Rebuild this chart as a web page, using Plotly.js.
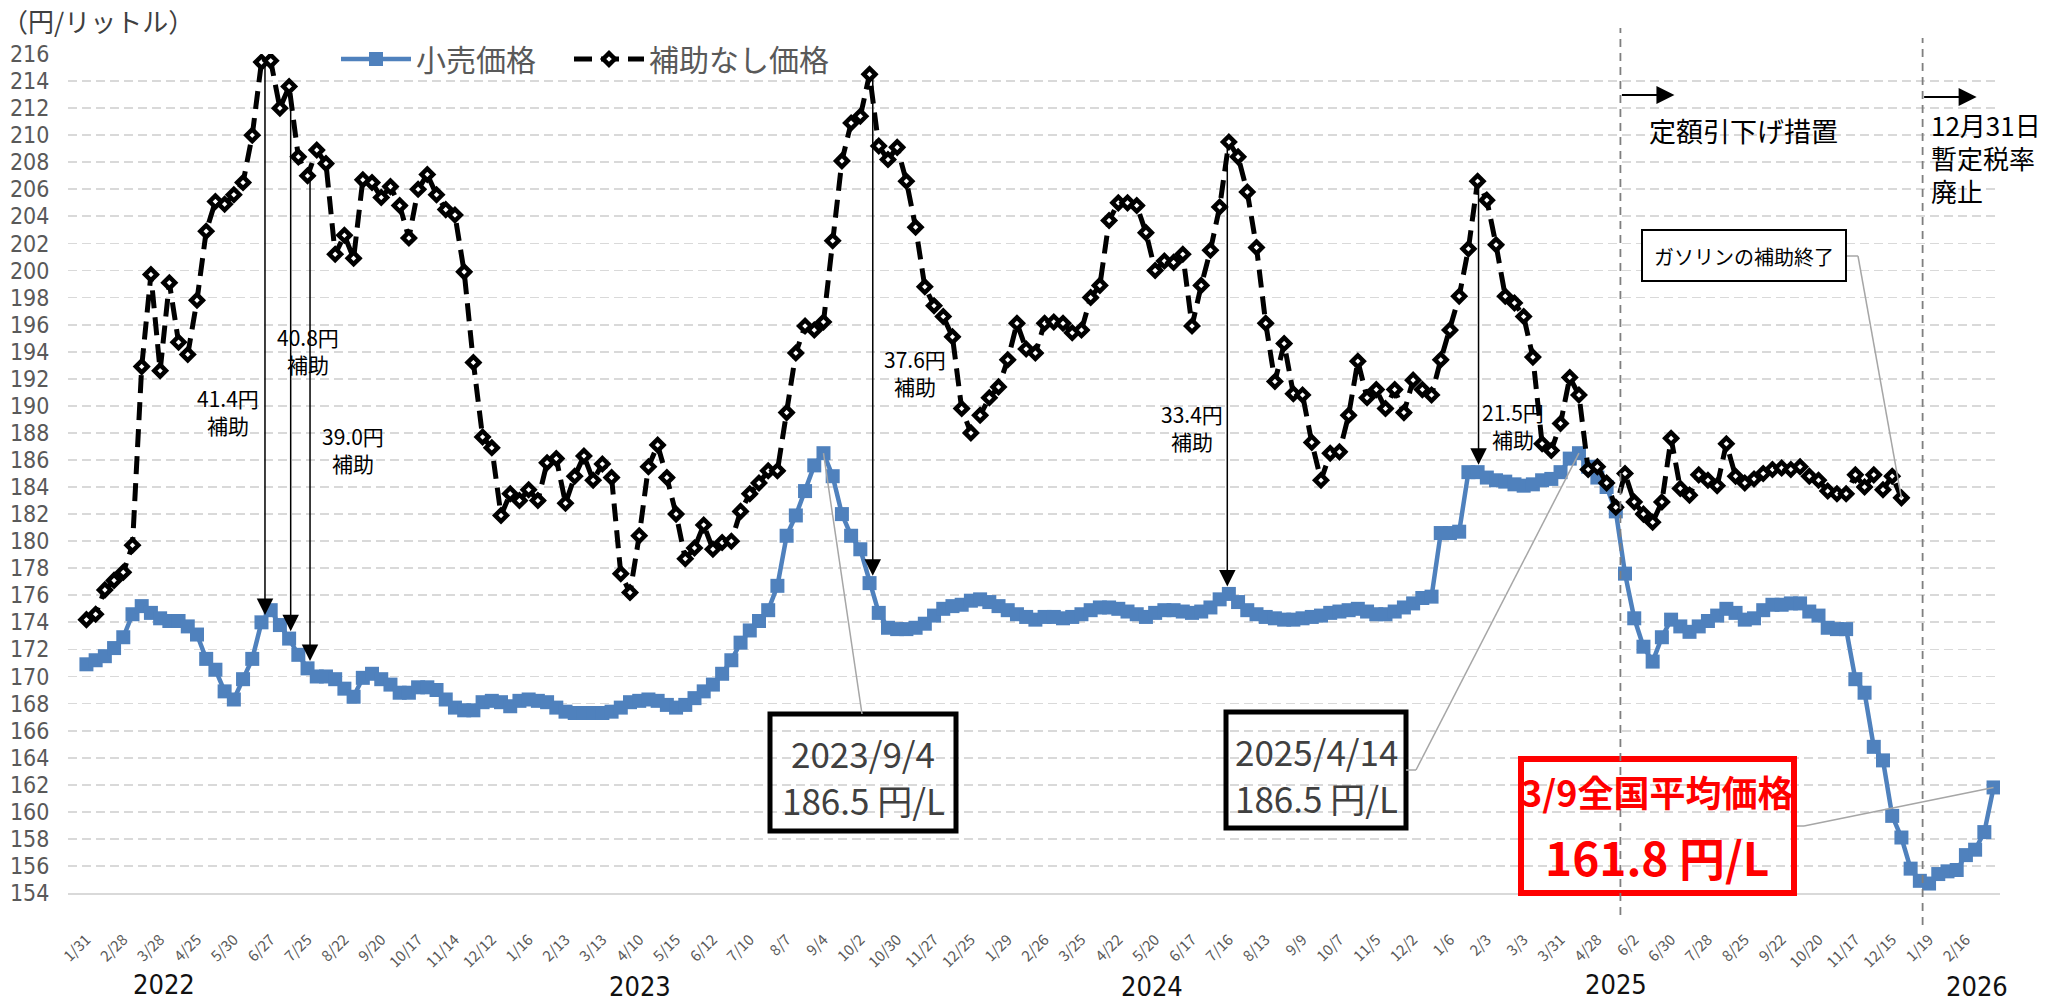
<!DOCTYPE html>
<html><head><meta charset="utf-8">
<script src="https://cdn.plot.ly/plotly-3.0.1.min.js"></script>
<style>html,body{margin:0;padding:0;background:#fff;} #chart{width:2053px;height:1003px;}</style>
</head><body><div id="chart"></div>
<script>
// ---------------- DATA ----------------
const weeks = [
"2022/1/31","2022/2/7","2022/2/14","2022/2/21","2022/2/28","2022/3/7","2022/3/14","2022/3/22","2022/3/28","2022/4/4",
"2022/4/11","2022/4/18","2022/4/25","2022/5/9","2022/5/16","2022/5/23","2022/5/30","2022/6/6","2022/6/13","2022/6/20",
"2022/6/27","2022/7/4","2022/7/11","2022/7/19","2022/7/25","2022/8/1","2022/8/8","2022/8/15","2022/8/22","2022/8/29",
"2022/9/5","2022/9/12","2022/9/20","2022/9/26","2022/10/3","2022/10/11","2022/10/17","2022/10/24","2022/10/31","2022/11/7",
"2022/11/14","2022/11/21","2022/11/28","2022/12/5","2022/12/12","2022/12/19","2022/12/26",
"2023/1/10","2023/1/16","2023/1/23","2023/1/30","2023/2/6","2023/2/13","2023/2/20","2023/2/27","2023/3/6","2023/3/13",
"2023/3/20","2023/3/27","2023/4/3","2023/4/10","2023/4/17","2023/4/24","2023/5/8","2023/5/15","2023/5/22","2023/5/29",
"2023/6/5","2023/6/12","2023/6/19","2023/6/26","2023/7/3","2023/7/10","2023/7/18","2023/7/24","2023/7/31","2023/8/7",
"2023/8/14","2023/8/21","2023/8/28","2023/9/4","2023/9/11","2023/9/19","2023/9/25","2023/10/2","2023/10/10","2023/10/16",
"2023/10/23","2023/10/30","2023/11/6","2023/11/13","2023/11/20","2023/11/27","2023/12/4","2023/12/11","2023/12/18","2023/12/25",
"2024/1/9","2024/1/15","2024/1/22","2024/1/29","2024/2/5","2024/2/13","2024/2/19","2024/2/26","2024/3/4","2024/3/11",
"2024/3/18","2024/3/25","2024/4/1","2024/4/8","2024/4/15","2024/4/22","2024/4/30","2024/5/7","2024/5/13","2024/5/20",
"2024/5/27","2024/6/3","2024/6/10","2024/6/17","2024/6/24","2024/7/1","2024/7/8","2024/7/16","2024/7/22","2024/7/29",
"2024/8/5","2024/8/13","2024/8/19","2024/8/26","2024/9/2","2024/9/9","2024/9/17","2024/9/24","2024/9/30","2024/10/7",
"2024/10/15","2024/10/21","2024/10/28","2024/11/5","2024/11/11","2024/11/18","2024/11/25","2024/12/2","2024/12/9","2024/12/16",
"2024/12/23",
"2025/1/6","2025/1/14","2025/1/20","2025/1/27","2025/2/3","2025/2/10","2025/2/17","2025/2/25","2025/3/3","2025/3/10",
"2025/3/17","2025/3/24","2025/3/31","2025/4/7","2025/4/14","2025/4/21","2025/4/28","2025/5/12","2025/5/19","2025/5/26",
"2025/6/2","2025/6/9","2025/6/16","2025/6/23","2025/6/30","2025/7/7","2025/7/14","2025/7/22","2025/7/28","2025/8/4",
"2025/8/12","2025/8/18","2025/8/25","2025/9/1","2025/9/8","2025/9/16","2025/9/22","2025/9/29","2025/10/6","2025/10/14",
"2025/10/20","2025/10/27","2025/11/4","2025/11/10","2025/11/17","2025/11/25","2025/12/1","2025/12/8","2025/12/15","2025/12/22",
"2026/1/5","2026/1/13","2026/1/19","2026/1/26","2026/2/2","2026/2/9","2026/2/16","2026/2/24","2026/3/2","2026/3/9"
];

// 小売価格 (円/L)
const retailPrice = [
170.9,171.2,171.5,172.1,172.9,174.6,175.2,174.7,174.3,174.1,
174.1,173.7,173.1,171.3,170.5,168.9,168.3,169.8,171.3,174.0,
174.9,173.8,172.8,171.6,170.6,170.0,170.0,169.8,169.1,168.5,
169.9,170.2,169.8,169.4,168.8,168.8,169.2,169.2,169.0,168.3,
167.7,167.5,167.5,168.1,168.2,168.1,167.8,
168.2,168.3,168.2,168.1,167.7,167.4,167.3,167.3,167.3,167.3,
167.4,167.7,168.1,168.2,168.3,168.2,167.9,167.7,167.9,168.4,
168.9,169.4,170.2,171.2,172.5,173.4,174.1,174.9,176.7,180.4,
181.9,183.7,185.6,186.5,184.8,182.0,180.4,179.4,176.9,174.7,
173.6,173.5,173.5,173.6,173.9,174.5,175.0,175.2,175.3,175.6,
175.7,175.5,175.2,174.9,174.6,174.4,174.2,174.4,174.4,174.3,
174.4,174.6,174.9,175.1,175.1,175.0,174.8,174.6,174.4,174.7,
174.9,174.9,174.8,174.7,174.8,175.1,175.7,176.1,175.5,174.9,
174.6,174.4,174.3,174.2,174.2,174.3,174.4,174.5,174.7,174.8,
174.9,175.0,174.8,174.6,174.6,174.8,175.1,175.4,175.8,175.9,
180.6,
180.6,180.7,185.1,185.1,184.7,184.5,184.4,184.2,184.1,184.2,
184.5,184.6,185.1,186.1,186.5,185.5,184.7,184.0,182.2,177.6,
174.3,172.2,171.1,172.9,174.2,173.7,173.3,173.7,174.1,174.5,
175.0,174.7,174.2,174.3,174.9,175.3,175.3,175.4,175.4,174.8,
174.5,173.6,173.5,173.5,169.8,168.8,164.8,163.8,159.7,158.1,
155.8,154.9,154.7,155.4,155.6,155.7,156.8,157.2,158.5,161.8
];

// 補助なし価格 (円/L) — ends when the subsidy ended
const noSubsidyPrice = [
174.2,174.6,176.4,177.1,177.7,179.7,192.9,199.7,192.6,199.1,
194.7,193.8,197.8,202.9,205.1,204.9,205.6,206.5,210.0,215.4,
215.5,212.0,213.6,208.4,207.0,208.9,207.9,201.2,202.6,200.9,
206.7,206.5,205.4,206.2,204.8,202.4,206.0,207.1,205.6,204.5,
204.1,199.9,193.2,187.7,186.9,181.9,183.5,
183.0,183.8,183.0,185.8,186.1,182.8,184.8,186.3,184.5,185.7,
184.7,177.6,176.2,180.4,185.5,187.1,184.7,182.0,178.7,179.5,
181.2,179.4,179.9,180.0,182.2,183.5,184.3,185.2,185.2,189.5,
193.9,195.9,195.6,196.2,202.2,208.1,210.9,211.4,214.5,209.2,
208.2,209.1,206.6,203.2,198.8,197.4,196.6,195.1,189.8,188.0,
189.3,190.6,191.4,193.4,196.1,194.2,193.9,196.1,196.2,196.1,
195.4,195.6,198.0,198.9,203.7,205.0,205.0,204.8,202.8,200.0,
200.7,200.6,201.2,195.9,198.9,201.5,204.7,209.5,208.4,205.8,
201.7,196.1,191.8,194.6,190.9,190.8,187.3,184.5,186.5,186.6,
189.3,193.3,190.6,191.2,189.8,191.2,189.5,191.9,191.2,190.8,
193.4,
195.6,198.1,201.6,206.6,205.2,201.9,198.1,197.6,196.6,193.6,
187.2,186.7,188.7,192.1,190.8,185.3,185.5,184.3,182.5,185.0,
182.9,182.0,181.4,182.9,187.6,183.9,183.4,184.9,184.5,184.1,
187.2,184.8,184.3,184.6,185.0,185.3,185.4,185.3,185.5,184.8,
184.5,183.7,183.5,183.5,184.9,184.0,184.9,183.8,184.8,183.2
];

const seriesNames = ['小売価格', '補助なし価格'];
const yearLabels = ['2022', '2023', '2024', '2025', '2026'];
const subsidyWeeks = ['2022/6/20', '2022/7/11', '2022/7/25', '2023/10/10', '2024/7/16', '2025/1/27'];
const subsidyLabels = ['41.4円', '40.8円', '39.0円', '37.6円', '33.4円', '21.5円'];
const peakWeeks = ['2023/9/4', '2025/4/14'];
const latestWeek = '2026/3/9';

// ---------------- LAYOUT HELPERS ----------------
const W = 2053, H = 1003, L = 68, R = 53, T = 54, B = 110;
const plotW = W - L - R, plotH = H - T - B;
const XR = [-2, 207.7], YR = [154, 216];
const px = x => (x - L) / plotW;           // pixel -> paper x
const py = y => (H - B - y) / plotH;       // pixel -> paper y
const toIdx = x => XR[0] + (x - L) / plotW * (XR[1] - XR[0]);
const toVal = y => YR[1] - (y - T) / plotH * (YR[1] - YR[0]);
const F = 'Noto Sans CJK JP, Noto Sans, DejaVu Sans, sans-serif';
const FN = 'DejaVu Sans Condensed, Liberation Sans, DejaVu Sans, sans-serif';

const tickWeeks = weeks.filter((d, i) => i % 4 === 0);
const tickText = tickWeeks.map(d => d.split('/').slice(1).join('/'));

const ann = [];
const shapes = [];
function txt(text, x, y, size, color, extra, fam) {
  ann.push(Object.assign({xref: 'paper', yref: 'paper', x: px(x), y: py(y), text: text,
    showarrow: false, font: {family: fam || F, size: size, color: color}, xanchor: 'center', yanchor: 'middle'}, extra || {}));
}

// unit label
txt('（円/リットル）', 0, 20, 26, '#404040', {xanchor: 'left'});

// year labels
const yearPos = [[164, 984], [640, 986], [1152, 986], [1616, 985], [1977, 986]];
yearLabels.forEach((t, k) => txt(t, yearPos[k][0], yearPos[k][1], 27, '#111', null, FN));

// subsidy arrows + labels
const arrowShift = [0.38, 0.17, 0.27, 0.35, -0.17, 0.1];
const subsidyTextPos = [[228, 411], [308, 351], [353, 449], [915, 372], [1192, 427], [1513, 425]];
subsidyWeeks.forEach((w, k) => {
  const i = weeks.indexOf(w);
  const xi = i + arrowShift[k];
  ann.push({xref: 'x', yref: 'y', axref: 'x', ayref: 'y', x: xi, y: retailPrice[i] + 0.55,
    ax: xi, ay: noSubsidyPrice[i], text: '', showarrow: true, arrowhead: 2, arrowsize: 2.2,
    arrowwidth: 1.5, arrowcolor: '#000', standoff: 0, startstandoff: 0});
  txt(subsidyLabels[k] + '<br>補助', subsidyTextPos[k][0], subsidyTextPos[k][1], 21, '#000');
});

// peak callout boxes
const boxes = [[770, 956, 714, 831], [1226, 1406, 712, 828]];
peakWeeks.forEach((w, k) => {
  const b = boxes[k];
  const i = weeks.indexOf(w);
  shapes.push({type: 'rect', xref: 'paper', yref: 'paper', x0: px(b[0]), x1: px(b[1]), y0: py(b[3]), y1: py(b[2]),
    line: {color: '#000', width: 5}, fillcolor: 'rgba(0,0,0,0)', layer: 'above'});
  const cx = (b[0] + b[1]) / 2;
  txt(w, cx, b[2] + 38, 35, '#404040');
  txt(retailPrice[i].toFixed(1) + ' 円/L', cx, b[2] + 85, 35, '#404040');
});
// leader lines of callouts
(function () {
  const i0 = weeks.indexOf(peakWeeks[0]);
  shapes.push({type: 'line', xref: 'x', yref: 'y', x0: i0, y0: retailPrice[i0], x1: toIdx(862), y1: toVal(714),
    line: {color: '#a6a6a6', width: 1.5}});
  const i1 = weeks.indexOf(peakWeeks[1]);
  shapes.push({type: 'line', xref: 'x', yref: 'y', x0: toIdx(1406), y0: toVal(770), x1: toIdx(1416), y1: toVal(770),
    line: {color: '#a6a6a6', width: 1.5}});
  shapes.push({type: 'line', xref: 'x', yref: 'y', x0: toIdx(1416), y0: toVal(770), x1: i1, y1: retailPrice[i1],
    line: {color: '#a6a6a6', width: 1.5}});
  // latest price callout
  const il = weeks.indexOf(latestWeek);
  shapes.push({type: 'rect', xref: 'paper', yref: 'paper', x0: px(1521), x1: px(1794), y0: py(893), y1: py(759),
    line: {color: '#ff0000', width: 6}, fillcolor: 'rgba(0,0,0,0)', layer: 'above'});
  shapes.push({type: 'line', xref: 'x', yref: 'y', x0: toIdx(1797), y0: toVal(826), x1: toIdx(1804), y1: toVal(826),
    line: {color: '#a6a6a6', width: 1.5}});
  shapes.push({type: 'line', xref: 'x', yref: 'y', x0: toIdx(1804), y0: toVal(826), x1: il, y1: retailPrice[il],
    line: {color: '#a6a6a6', width: 1.5}});
  const parts = latestWeek.split('/');
  txt('<b>' + parts[1] + '/' + parts[2] + '全国平均価格</b>', 1657, 791, 36, '#ff0000');
  txt('<b>' + retailPrice[il].toFixed(1) + ' 円/L</b>', 1657, 856, 46, '#ff0000');
  // subsidy end callout
  const ie = noSubsidyPrice.length - 1;
  shapes.push({type: 'rect', xref: 'paper', yref: 'paper', x0: px(1642), x1: px(1846), y0: py(281), y1: py(230),
    line: {color: '#000', width: 2}, fillcolor: '#fff', layer: 'above'});
  shapes.push({type: 'line', xref: 'x', yref: 'y', x0: toIdx(1847), y0: toVal(256), x1: toIdx(1858), y1: toVal(256),
    line: {color: '#a6a6a6', width: 1.5}});
  shapes.push({type: 'line', xref: 'x', yref: 'y', x0: toIdx(1858), y0: toVal(256), x1: ie, y1: noSubsidyPrice[ie],
    line: {color: '#a6a6a6', width: 1.5}});
  txt('ガソリンの補助終了', 1744, 256, 20, '#000');
})();

// policy event lines
const eventIdx = [166.5, 199.3];
const eventTop = [28, 38], eventBot = [915, 925], arrowY = [95, 97];
eventIdx.forEach((xi, k) => {
  shapes.push({type: 'line', xref: 'x', yref: 'paper', x0: xi, x1: xi, y0: py(eventBot[k]), y1: py(eventTop[k]),
    line: {color: '#7f7f7f', width: 1.8, dash: '8px,6px'}});
  const xpx = L + (xi - XR[0]) / (XR[1] - XR[0]) * plotW;
  ann.push({xref: 'paper', yref: 'paper', x: px(xpx + 54), y: py(arrowY[k]), axref: 'pixel', ayref: 'pixel',
    ax: -54, ay: 0, text: '', showarrow: true, arrowhead: 2, arrowsize: 1.8, arrowwidth: 2, arrowcolor: '#000',
    standoff: 0, startstandoff: 0});
});
txt('定額引下げ措置', 1647, 130, 27, '#000', {xanchor: 'left'});
txt('12月31日', 1929, 124, 26, '#000', {xanchor: 'left'});
txt('暫定税率', 1929, 157, 26, '#000', {xanchor: 'left'});
txt('廃止', 1929, 190, 26, '#000', {xanchor: 'left'});

// ---------------- TRACES ----------------
const traces = [
  {name: seriesNames[0], x: weeks, y: retailPrice, type: 'scatter', mode: 'lines+markers', legend: 'legend',
   line: {color: '#4F81BD', width: 4.5}, marker: {symbol: 'square', size: 14, color: '#4F81BD'}},
  {name: seriesNames[1], x: weeks.slice(0, noSubsidyPrice.length), y: noSubsidyPrice, type: 'scatter', mode: 'lines+markers',
   legend: 'legend2',
   line: {color: '#000', width: 5, dash: '18px,9px'},
   marker: {symbol: 'diamond', size: 9, color: '#fff', line: {color: '#000', width: 4.5}}}
];

const legendBase = {orientation: 'h', yanchor: 'middle', xanchor: 'left', y: py(59),
  font: {family: F, size: 30, color: '#595959'}, itemwidth: 70, bgcolor: 'rgba(0,0,0,0)'};

const layout = {
  width: W, height: H,
  margin: {l: L, r: R, t: T, b: B, pad: 0},
  paper_bgcolor: '#fff', plot_bgcolor: '#fff',
  font: {family: F, color: '#595959'},
  showlegend: true,
  legend: Object.assign({}, legendBase, {x: px(336)}),
  legend2: Object.assign({}, legendBase, {x: px(569)}),
  xaxis: {type: 'category', range: XR, tickmode: 'array', tickvals: tickWeeks, ticktext: tickText,
    tickangle: -45, tickfont: {family: F, size: 15, color: '#595959'}, showgrid: false, zeroline: false,
    showline: true, linecolor: '#d9d9d9', linewidth: 2, ticks: 'outside', ticklen: 30,
    tickcolor: 'rgba(0,0,0,0)', automargin: false, fixedrange: true},
  yaxis: {range: YR, tick0: 154, dtick: 2, showgrid: true, gridcolor: '#d9d9d9', griddash: '9px,5px',
    gridwidth: 1.8, zeroline: false, showline: false, tickfont: {family: FN, size: 23, color: '#595959'},
    ticks: 'outside', ticklen: 13, tickcolor: 'rgba(0,0,0,0)', automargin: false, fixedrange: true},
  annotations: ann,
  shapes: shapes,
  hovermode: false
};

Plotly.newPlot('chart', traces, layout, {staticPlot: true, displayModeBar: false});
</script></body></html>
